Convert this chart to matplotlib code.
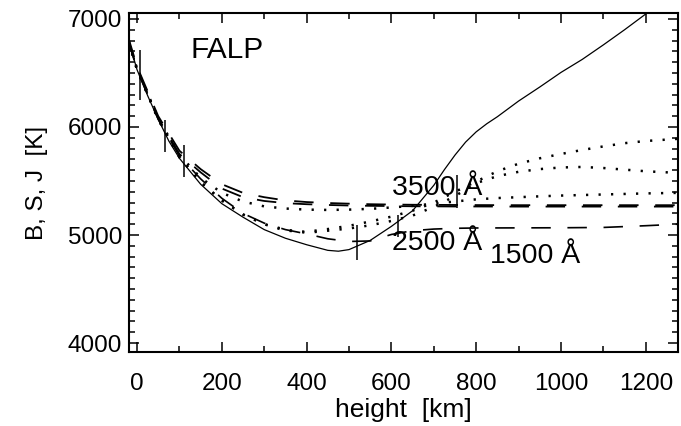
import matplotlib
matplotlib.use("Agg")
import matplotlib.pyplot as plt
from matplotlib.ticker import MultipleLocator

plt.rcParams['font.family'] = ['Liberation Sans', 'DejaVu Sans']
plt.rcParams['lines.scale_dashes'] = False

# Planck function B (solid)
b_h = [-20, 0, 25, 50, 75, 100, 150, 200, 250, 300, 350, 400, 450, 475, 500, 550, 600,
       650, 700, 725, 750, 775, 800, 825, 850, 900, 950, 1000, 1050, 1100, 1150, 1200, 1240]
b_t = [6800, 6530, 6290, 6070, 5870, 5710, 5470, 5290, 5165, 5050, 4970, 4910, 4858, 4850,
       4865, 4950, 5080, 5225, 5460, 5605, 5740, 5860, 5955, 6030, 6095, 6240, 6370, 6505,
       6625, 6760, 6900, 7046, 7160]

# mean intensity J (dashed)
j_h = [-20, 0, 50, 100, 150, 200, 250, 300, 350, 400, 450, 500, 550, 600, 650, 700, 750,
       800, 900, 1000, 1100, 1150, 1200, 1275]
j1_t = [6820, 6560, 6100, 5780, 5610, 5470, 5390, 5350, 5320, 5305, 5296, 5290, 5285, 5282,
        5280, 5279, 5278, 5277, 5276, 5276, 5276, 5276, 5276, 5276]
j2_t = [6800, 6540, 6080, 5750, 5580, 5430, 5350, 5315, 5295, 5285, 5278, 5273, 5270, 5268,
        5266, 5265, 5264, 5264, 5263, 5263, 5263, 5263, 5263, 5263]
j3_t = [6790, 6530, 6070, 5730, 5520, 5340, 5200, 5110, 5050, 5010, 4965, 4940, 4945, 5005,
        5040, 5055, 5062, 5065, 5066, 5067, 5070, 5078, 5086, 5100]

# source function S (dotted)
s_h = [-20, 0, 50, 100, 150, 200, 250, 300, 350, 400, 450, 500, 550, 600, 650, 700, 750,
       800, 850, 900, 950, 1000, 1050, 1100, 1150, 1200, 1275]
s1_t = [6800, 6540, 6080, 5740, 5530, 5390, 5310, 5265, 5245, 5235, 5232, 5235, 5242, 5255,
        5270, 5290, 5310, 5330, 5342, 5350, 5358, 5365, 5370, 5375, 5380, 5385, 5390]
s2_t = [6790, 6530, 6070, 5720, 5490, 5320, 5190, 5100, 5050, 5020, 5040, 5060, 5090, 5130,
        5180, 5260, 5360, 5480, 5545, 5585, 5610, 5625, 5630, 5620, 5605, 5590, 5575]
s3_t = [6790, 6530, 6070, 5720, 5490, 5320, 5190, 5100, 5040, 5030, 5055, 5085, 5125, 5170,
        5225, 5300, 5400, 5495, 5590, 5660, 5710, 5750, 5787, 5820, 5850, 5870, 5890]

# vertical markers
bar_h = [7, 66, 111, 519, 615, 754]
bar_t = [6480, 5917, 5685, 4931, 5085, 5403]
bar_dt = [230, 148, 148, 162, 100, 153]

fig = plt.figure(figsize=(6.81, 4.26), dpi=100)
ax = fig.add_axes([0.1894, 0.1737, 0.8062, 0.7958])

dash = (0, (14, 12))
dot = (0, (1.6, 7.4))
ax.plot(b_h, b_t, color='black', lw=0.9)
ax.plot(j_h, j1_t, color='black', lw=1.3, linestyle=dash)
ax.plot(j_h, j2_t, color='black', lw=1.3, linestyle=dash)
ax.plot(j_h, j3_t, color='black', lw=1.2, linestyle=dash)
for st in (s1_t, s2_t, s3_t):
    ax.plot(s_h, st, color='black', lw=1.8, linestyle=dot)

ax.vlines(bar_h, [t - d for t, d in zip(bar_t, bar_dt)],
          [t + d for t, d in zip(bar_t, bar_dt)], color='black', lw=1.1)

ax.text(125, 6639, 'FALP', fontsize=21.5, ha='left', va='baseline')
ax.text(601, 5370, '3500 Å', fontsize=20.5, ha='left', va='baseline')
ax.text(601, 4861, '2500 Å', fontsize=20.5, ha='left', va='baseline')
ax.text(832, 4741, '1500 Å', fontsize=20.5, ha='left', va='baseline')

ax.set_xlim(-19, 1276)
ax.set_ylim(3917, 7055)
ax.xaxis.set_major_locator(MultipleLocator(200))
ax.xaxis.set_minor_locator(MultipleLocator(100))
ax.yaxis.set_major_locator(MultipleLocator(1000))
ax.yaxis.set_minor_locator(MultipleLocator(100))
ax.tick_params(which='both', direction='in', top=True, right=True, labelsize=17.5, width=1.1)
ax.tick_params(which='major', length=7)
ax.tick_params(which='minor', length=4)
ax.tick_params(axis='x', pad=15)
ax.tick_params(axis='y', pad=5)
for s in ax.spines.values():
    s.set_linewidth(1.5)

ax.set_xlabel('height  [km]', fontsize=19, labelpad=2)
ax.set_ylabel('B, S, J  [K]', fontsize=17.5, labelpad=14)

fig.savefig('out.png', dpi=100)
